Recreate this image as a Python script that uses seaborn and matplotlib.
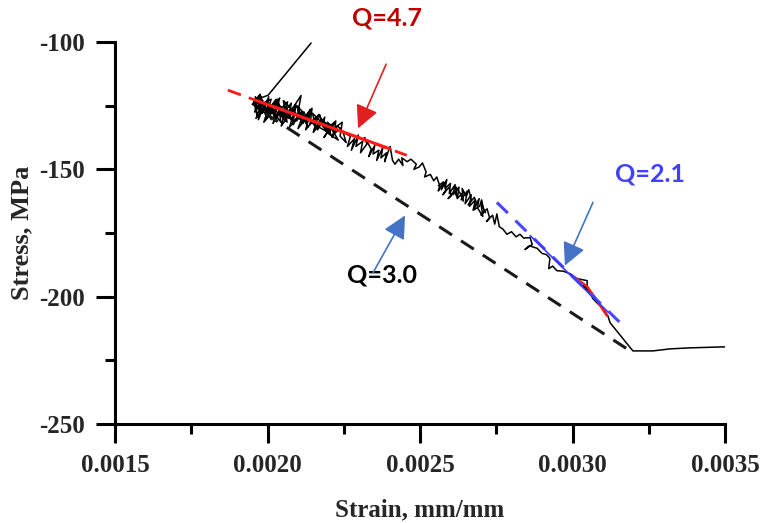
import matplotlib
matplotlib.use("Agg")
import matplotlib.pyplot as plt
from matplotlib.ticker import MultipleLocator, FixedLocator
import seaborn as sns
import pandas as pd

# ---------------- data (strain in mm/mm, stress in MPa) ----------------
# initial spike of the measured trace
spike_strain = [0.002143, 0.002002]
spike_stress = [-100.4, -120.9]

# dense noisy start of the trace: forward pass
passa_strain = [
    0.001955, 0.001965, 0.001960, 0.001978, 0.001970, 0.001992, 0.001982, 0.002004,
    0.001996, 0.002016, 0.002006, 0.002028, 0.002020, 0.002040, 0.002032, 0.002052,
    0.002046, 0.002064, 0.002058, 0.002078, 0.002070, 0.002090, 0.002084, 0.002104,
    0.002096, 0.002118, 0.002110, 0.002132, 0.002124, 0.002146, 0.002140, 0.002160,
    0.002154, 0.002176, 0.002170, 0.002192, 0.002186, 0.002208, 0.002200, 0.002224,
    0.002218, 0.002240,
]
passa_stress = [
    -123.0, -128.5, -121.5, -126.0, -130.5, -124.0, -128.0, -121.5,
    -130.0, -125.0, -128.5, -123.0, -131.0, -126.5, -122.5, -129.5,
    -125.5, -131.5, -127.0, -124.0, -130.0, -126.0, -132.5, -128.0,
    -125.0, -131.0, -127.5, -133.5, -129.0, -126.0, -132.0, -130.0,
    -134.5, -131.0, -128.5, -135.0, -132.0, -136.5, -133.5, -131.0,
    -136.0, -134.0,
]
# dense noisy start: return pass
passb_strain = [
    0.002228, 0.002212, 0.002220, 0.002196, 0.002204, 0.002180, 0.002188, 0.002164,
    0.002172, 0.002148, 0.002156, 0.002132, 0.002140, 0.002116, 0.002124, 0.002100,
    0.002108, 0.002084, 0.002092, 0.002068, 0.002076, 0.002052, 0.002060, 0.002036,
    0.002044, 0.002020, 0.002028, 0.002004, 0.002012, 0.001988, 0.001996, 0.001972,
    0.001980, 0.001958,
]
passb_stress = [
    -133.0, -137.5, -134.0, -131.5, -136.0, -133.0, -129.5, -134.5,
    -131.0, -128.0, -133.0, -129.5, -126.5, -132.0, -128.5, -125.5,
    -130.5, -127.0, -124.5, -129.5, -126.0, -123.0, -128.5, -124.5,
    -131.5, -127.5, -122.5, -126.5, -130.5, -124.0, -128.0, -121.5,
    -127.0, -125.0,
]
# main pass of the trace down to the end of the test
main_strain = [
    0.001950, 0.001972, 0.001958, 0.001985, 0.001962, 0.001990, 0.001975, 0.002000,
    0.001968, 0.002012, 0.001988, 0.002020, 0.001995, 0.002030, 0.002008, 0.002040,
    0.002018, 0.002050, 0.002025, 0.002058, 0.002035, 0.002066, 0.002045, 0.002075,
    0.002055, 0.002085, 0.002062, 0.002094, 0.002072, 0.002102, 0.002080, 0.002110,
    0.002095, 0.002120, 0.002100, 0.002130, 0.002112, 0.002142, 0.002125, 0.002155,
    0.002138, 0.002168, 0.002150, 0.002180, 0.002162, 0.002192, 0.002175, 0.002205,
    0.002185, 0.002218, 0.002200, 0.002232, 0.002212, 0.002245, 0.002238, 0.002258,
    0.002248, 0.002272, 0.002262, 0.002285, 0.002275, 0.002298, 0.002290, 0.002312,
    0.002305, 0.002326, 0.002318, 0.002340, 0.002332, 0.002352, 0.002346, 0.002365,
    0.002358, 0.002378, 0.002372, 0.002390, 0.002384, 0.002402, 0.002410, 0.002418,
    0.002430, 0.002444, 0.002440, 0.002458, 0.002470, 0.002488, 0.002480, 0.002498,
    0.002508, 0.002520, 0.002515, 0.002534, 0.002545, 0.002555, 0.002565, 0.002560,
    0.002578, 0.002585, 0.002575, 0.002595, 0.002602, 0.002592, 0.002612, 0.002622,
    0.002615, 0.002632, 0.002642, 0.002638, 0.002652, 0.002660, 0.002668, 0.002658,
    0.002678, 0.002686, 0.002676, 0.002695, 0.002702, 0.002710, 0.002700, 0.002720,
    0.002728, 0.002718, 0.002738, 0.002745, 0.002752, 0.002760, 0.002772, 0.002785,
    0.002800, 0.002815, 0.002828, 0.002840, 0.002861, 0.002868, 0.002844, 0.002858,
    0.002884, 0.002900, 0.002915, 0.002926, 0.002922, 0.002935, 0.002949, 0.002970,
    0.002992, 0.003015, 0.003048, 0.003048, 0.003035, 0.003055, 0.003067, 0.003080,
    0.003100, 0.003116, 0.003123, 0.003198, 0.003264, 0.003320, 0.003385, 0.003500,
]
main_stress = [
    -124.5, -121.0, -127.5, -123.0, -130.0, -126.5, -120.5, -129.0,
    -125.0, -122.5, -131.5, -127.0, -123.5, -130.5, -125.5, -122.0,
    -132.0, -126.0, -124.0, -131.0, -127.5, -123.5, -133.0, -128.0,
    -125.0, -131.5, -128.5, -125.0, -133.5, -129.0, -126.5, -121.0,
    -131.0, -127.5, -134.0, -129.5, -131.5, -127.0, -134.5, -130.0,
    -132.5, -128.5, -135.5, -131.0, -133.0, -135.0, -130.0, -133.5,
    -137.5, -132.0, -136.0, -138.5, -134.5, -131.5, -137.0, -139.5,
    -135.5, -137.0, -141.0, -138.0, -142.5, -136.5, -141.0, -139.0,
    -143.5, -140.0, -137.5, -142.0, -145.0, -140.5, -144.0, -142.5,
    -146.5, -141.5, -145.5, -143.5, -147.0, -141.0, -146.5, -148.0,
    -146.0, -148.5, -145.5, -147.0, -146.0, -148.0, -150.0, -149.0,
    -147.5, -151.0, -153.0, -152.0, -154.5, -153.0, -156.5, -158.5,
    -155.0, -158.0, -160.0, -157.0, -160.5, -161.5, -158.5, -161.0,
    -156.5, -159.5, -162.5, -157.5, -160.5, -158.0, -162.0, -164.0,
    -161.0, -163.5, -166.0, -164.5, -162.0, -166.5, -168.0, -165.5,
    -169.0, -170.5, -168.0, -171.5, -167.5, -172.5, -173.5, -175.5,
    -174.5, -176.5, -175.5, -177.0, -176.8, -179.5, -181.5, -180.0,
    -181.0, -183.0, -183.5, -185.0, -189.0, -188.0, -189.8, -190.0,
    -191.0, -192.9, -193.7, -196.9, -195.5, -198.0, -200.8, -202.4,
    -204.7, -207.5, -210.2, -221.3, -221.3, -220.5, -220.1, -219.7,
]
# extra jitter loop in the middle of the trace
loop_strain = [
    0.002715, 0.002700, 0.002706, 0.002688, 0.002694, 0.002674, 0.002682, 0.002662,
    0.002668, 0.002648, 0.002655, 0.002635, 0.002642, 0.002622, 0.002628, 0.002608,
    0.002615, 0.002596, 0.002600, 0.002582, 0.002588, 0.002570, 0.002576, 0.002560,
]
loop_stress = [
    -167.0, -163.5, -168.5, -165.0, -161.5, -166.0, -162.0, -164.5,
    -160.0, -163.5, -158.5, -162.0, -159.0, -161.5, -157.0, -160.0,
    -156.0, -159.5, -155.5, -157.5, -154.0, -158.0, -155.0, -156.5,
]

# Q = 3.0 reference line (black dashed)
q30_strain = [0.001992, 0.003189]
q30_stress = [-128.0, -221.3]

# Q = 4.7 fit (red): dashed extent and solid portion over data
q47_dash_strain = [0.001870, 0.002457]
q47_dash_stress = [-118.9, -144.5]
q47_solid_strain = [0.001969, 0.002402]
q47_solid_stress = [-123.2, -142.0]

# Q = 2.1 fit (blue): dashed extent and solid portion
q21_dash_strain = [0.002752, 0.003156]
q21_dash_stress = [-163.0, -210.2]
q21_solid_strain = [0.002861, 0.003116]
q21_solid_stress = [-176.0, -206.0]

# red local segment near the end of the data
red_seg_strain = [0.003008, 0.003048, 0.003080, 0.003113]
red_seg_stress = [-192.5, -196.0, -201.5, -207.5]

x_ticks = [0.0015, 0.0020, 0.0025, 0.0030, 0.0035]
x_tick_labels = ["0.0015", "0.0020", "0.0025", "0.0030", "0.0035"]
y_ticks = [-250, -200, -150, -100]
y_tick_labels = ["-250", "-200", "-150", "-100"]

# ---------------- styling ----------------
sns.set_style("ticks")
plt.rcParams["font.family"] = ["Liberation Serif", "DejaVu Serif"]
plt.rcParams["font.weight"] = "bold"
plt.rcParams["axes.unicode_minus"] = False

fig = plt.figure(figsize=(7.61, 5.23), dpi=100)
ax = fig.add_axes([115 / 761, 1 - 424 / 523, 610 / 761, 382 / 523])

trace_df = pd.DataFrame({
    "strain": spike_strain + passa_strain + passb_strain + main_strain,
    "stress": spike_stress + passa_stress + passb_stress + main_stress,
})
sns.lineplot(data=trace_df, x="strain", y="stress", sort=False, estimator=None,
             color="black", lw=1.1, ax=ax, zorder=2)
loop_df = pd.DataFrame({"strain": loop_strain, "stress": loop_stress})
sns.lineplot(data=loop_df, x="strain", y="stress", sort=False, estimator=None,
             color="black", lw=1.1, ax=ax, zorder=2)

sns.lineplot(x=q30_strain, y=q30_stress, color="#1a1a1a", lw=2.2,
             ax=ax, zorder=3).lines[-1].set_dashes([5, 3.5])

sns.lineplot(x=q47_dash_strain, y=q47_dash_stress, color="#ff1a1a", lw=2.0,
             ax=ax, zorder=4).lines[-1].set_dashes([5, 3])
sns.lineplot(x=q47_solid_strain, y=q47_solid_stress, color="#ff1a1a", lw=2.2,
             ax=ax, zorder=4)

sns.lineplot(x=red_seg_strain, y=red_seg_stress, color="#ff1a1a", lw=1.8,
             ax=ax, zorder=4)
sns.lineplot(x=q21_dash_strain, y=q21_dash_stress, color="#4848ff", lw=2.2,
             ax=ax, zorder=5).lines[-1].set_dashes([5, 3.5])
sns.lineplot(x=q21_solid_strain, y=q21_solid_stress, color="#3a3aff", lw=1.2,
             ax=ax, zorder=5)

ax.set_xlim(0.0015, 0.0035)
ax.set_ylim(-250, -100)
ax.xaxis.set_major_locator(FixedLocator(x_ticks))
ax.set_xticklabels(x_tick_labels)
ax.yaxis.set_major_locator(FixedLocator(y_ticks))
ax.set_yticklabels(y_tick_labels)
ax.xaxis.set_minor_locator(MultipleLocator(0.00025))
ax.yaxis.set_minor_locator(MultipleLocator(25))

for s in ["top", "right"]:
    ax.spines[s].set_visible(False)
for s in ["left", "bottom"]:
    ax.spines[s].set_linewidth(2.2)
    ax.spines[s].set_color("black")

ax.tick_params(which="major", direction="out", length=13.5, width=2.2,
               labelsize=18, pad=8, color="black")
ax.tick_params(which="minor", direction="out", length=7, width=2.2, color="black")
for lab in ax.get_xticklabels() + ax.get_yticklabels():
    lab.set_fontweight("bold")

ax.set_xlabel("Strain, mm/mm", fontsize=18, fontweight="bold")
ax.set_ylabel("Stress, MPa", fontsize=19, fontweight="bold")
ax.xaxis.set_label_coords(0.5, (424 - 510) / 382)
ax.xaxis.label.set_va("center")
ax.yaxis.set_label_coords((22 - 115) / 610, 0.5)
ax.yaxis.label.set_va("center")

# ---------------- annotations ----------------
afont = dict(family=["Lato", "DejaVu Sans"], fontweight="bold", fontsize=18)

def arrow(tail, head, color):
    ax.annotate("", xy=head, xytext=tail, xycoords="data", textcoords="data",
                annotation_clip=False,
                arrowprops=dict(arrowstyle="-|>,head_length=0.7,head_width=0.35",
                                color=color, lw=1.2, shrinkA=0, shrinkB=0,
                                mutation_scale=20), zorder=7)

ax.text(0.002392, -90.6, "Q=4.7", color="#c00000", ha="center", va="center",
        clip_on=False, zorder=8, **afont)
arrow((0.002389, -108.7), (0.002297, -133.9), "#e02020")

ax.text(0.003254, -152.0, "Q=2.1", color="#4040ff", ha="center", va="center",
        zorder=8, **afont)
arrow((0.003067, -163.0), (0.002975, -187.8), "#4472c4")

ax.text(0.002375, -191.3, "Q=3.0", color="black", ha="center", va="center",
        zorder=6, **afont)
arrow((0.002346, -190.6), (0.002451, -168.1), "#4472c4")

fig.savefig("out.png", dpi=100)
